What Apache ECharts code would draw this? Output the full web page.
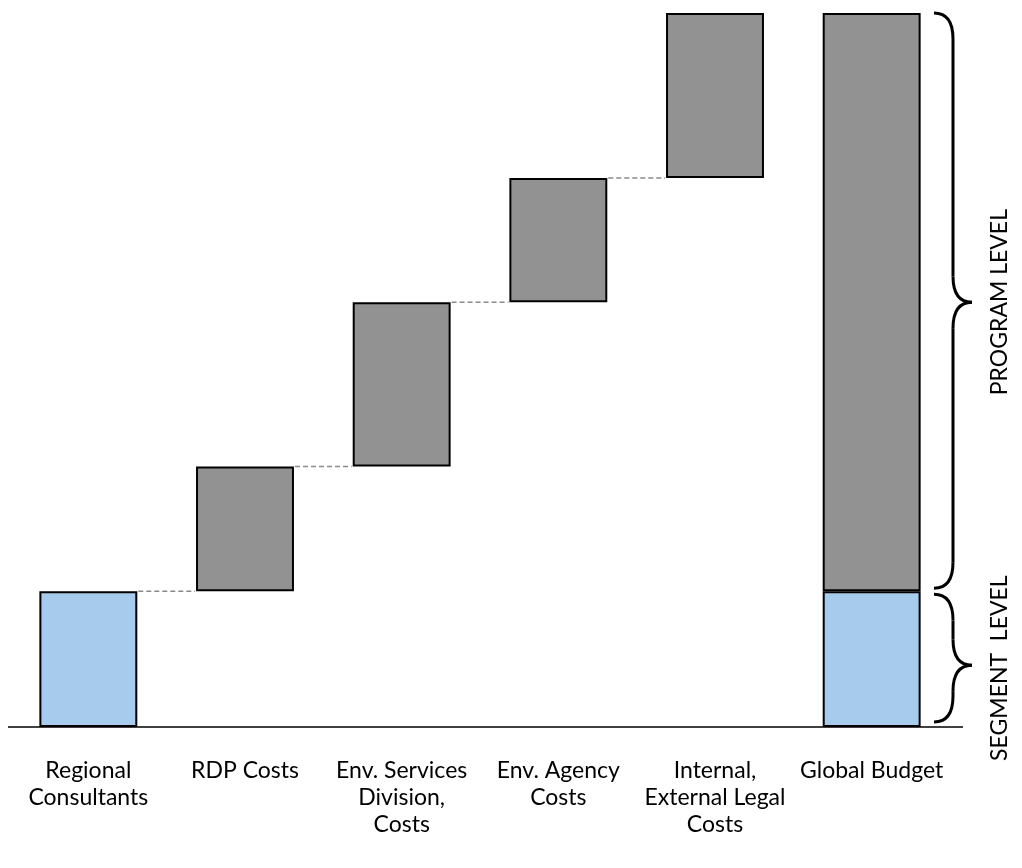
<!DOCTYPE html>
<html>
<head>
<meta charset="utf-8">
<script src="https://cdn.jsdelivr.net/npm/echarts@6/dist/echarts.min.js"></script>
<style>
  html, body { margin: 0; padding: 0; background: #fff; }
  #main { width: 1022px; height: 868px; }
</style>
</head>
<body>
<div id="main"></div>
<script>
// categories and values (arbitrary units, total = 100)
var categories = ["Regional\nConsultants", "RDP Costs", "Env. Services\nDivision,\nCosts", "Env. Agency\nCosts", "Internal,\nExternal Legal\nCosts", "Global Budget"];
var baseValues = [0, 19, 36.5, 59.5, 76.9, 0];
var segmentValues = [19, "-", "-", "-", "-", 19];
var programValues = ["-", 17.5, 23, 17.4, 23.1, 81];
// dashed connectors: [from category index, level]
var connectors = [[0, 19], [1, 36.5], [2, 59.5], [3, 76.9]];

var BLUE = "#a7cbec";
var GRAY = "#929292";

var chart = echarts.init(document.getElementById("main"));

chart.setOption({
  animation: false,
  backgroundColor: "#fff",
  grid: { left: 10, right: 72, top: 13, bottom: 141 },
  xAxis: {
    type: "category",
    data: categories,
    axisLine: { show: false },
    axisTick: { show: false },
    axisLabel: {
      interval: 0,
      margin: 30,
      fontFamily: "Lato",
      fontSize: 23,
      lineHeight: 27,
      color: "#000",
      verticalAlign: "top"
    }
  },
  yAxis: {
    type: "value",
    min: 0,
    max: 100,
    show: false
  },
  series: [
    {
      type: "bar", stack: "w", barWidth: "62.5%",
      itemStyle: { color: "transparent" },
      silent: true,
      data: baseValues
    },
    {
      type: "bar", stack: "w",
      itemStyle: { color: BLUE, borderColor: "#000", borderWidth: 2 },
      data: segmentValues
    },
    {
      type: "bar", stack: "w",
      itemStyle: { color: GRAY, borderColor: "#000", borderWidth: 2 },
      data: programValues
    },
    {
      type: "custom",
      silent: true,
      data: connectors,
      renderItem: function (params, api) {
        var i = api.value(0);
        var lvl = api.value(1);
        var bw = api.size([1, 0])[0] * 0.625;
        var p1 = api.coord([i, lvl]);
        var p2 = api.coord([i + 1, lvl]);
        return {
          type: "line",
          shape: { x1: p1[0] + bw / 2 + 1, y1: p1[1], x2: p2[0] - bw / 2 - 1, y2: p2[1] },
          style: { stroke: "#8a8a8a", lineWidth: 1.5, lineDash: [5, 3] }
        };
      }
    }
  ]
});

// axis line and braces placed from the chart's own scale
var y0 = chart.convertToPixel({ yAxisIndex: 0 }, 0);
var ySeg = chart.convertToPixel({ yAxisIndex: 0 }, 19);
var yTop = chart.convertToPixel({ yAxisIndex: 0 }, 100);
var bx = 934;
var braceStyle = { fill: "none", stroke: "#000", lineWidth: 3 };

// right-pointing curly brace built from curves and lines
function brace(x, y1, y2, w, r, ym) {
  var xm = x + w / 2;
  var parts = [
    { type: "bezierCurve", shape: { x1: x, y1: y1, cpx1: xm, cpy1: y1, x2: xm, y2: y1 + r } },
    { type: "line", shape: { x1: xm, y1: y1 + r, x2: xm, y2: ym - r } },
    { type: "bezierCurve", shape: { x1: xm, y1: ym - r, cpx1: xm, cpy1: ym, x2: x + w, y2: ym } },
    { type: "bezierCurve", shape: { x1: x + w, y1: ym, cpx1: xm, cpy1: ym, x2: xm, y2: ym + r } },
    { type: "line", shape: { x1: xm, y1: ym + r, x2: xm, y2: y2 - r } },
    { type: "bezierCurve", shape: { x1: xm, y1: y2 - r, cpx1: xm, cpy1: y2, x2: x, y2: y2 } }
  ];
  parts.forEach(function (p) { p.style = braceStyle; });
  return parts;
}

var graphics = [
  {
    type: "line",
    shape: { x1: 8, y1: y0, x2: 963, y2: y0 },
    style: { stroke: "#000", lineWidth: 1.5 }
  },
  {
    type: "text",
    x: 1000, y: (yTop + ySeg) / 2,
    rotation: Math.PI / 2,
    style: { text: "PROGRAM LEVEL", fontFamily: "Lato", fontSize: 23, fill: "#000", align: "center", verticalAlign: "middle" }
  },
  {
    type: "text",
    x: 1000, y: (ySeg + y0) / 2 + 9,
    rotation: Math.PI / 2,
    style: { text: "SEGMENT  LEVEL", fontFamily: "Lato", fontSize: 23, fill: "#000", align: "center", verticalAlign: "middle" }
  }
];
graphics = graphics
  .concat(brace(bx, yTop, ySeg - 3, 38, 26, (yTop + ySeg) / 2))
  .concat(brace(bx, ySeg + 3, y0 - 5, 38, 26, (ySeg + y0) / 2 + 6));

chart.setOption({ graphic: graphics });
</script>
</body>
</html>
